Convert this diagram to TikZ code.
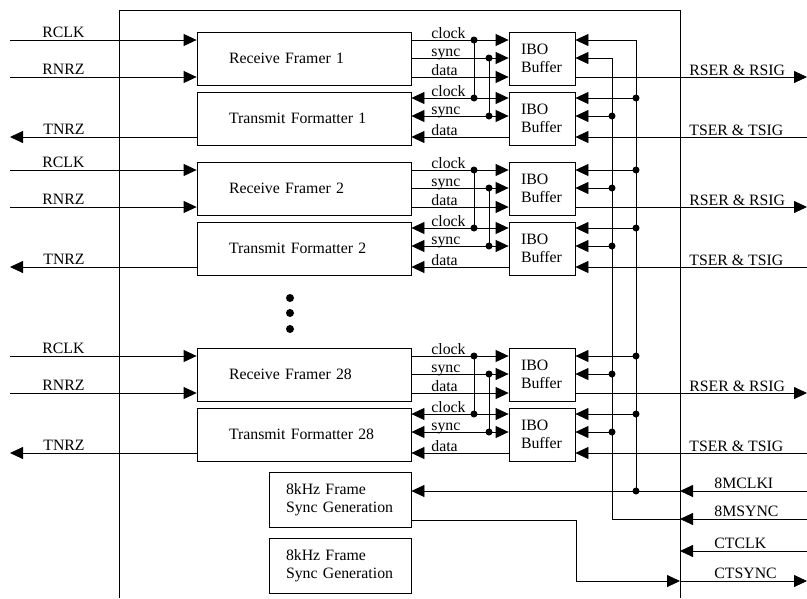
\documentclass[tikz,border=0pt]{standalone}
\usepackage{fontspec}
\setmainfont{Liberation Serif}
\usetikzlibrary{arrows.meta, positioning, calc}

\begin{document}
\begin{tikzpicture}[x=1pt, y=-1pt, line width=0.8pt,
    >={Triangle[length=13pt, width=12pt]},
    font=\fontsize{15.8}{18.5}\selectfont,
    block/.style={draw, rectangle, minimum height=53pt, text width=150pt,
      inner xsep=32pt, inner ysep=0pt, align=left},
    buffer/.style={draw, rectangle, minimum height=53pt, text width=42pt,
      inner xsep=12pt, inner ysep=0pt, align=left},
    gen/.style={draw, rectangle, minimum height=55pt, text width=108pt,
      inner xsep=17pt, inner ysep=0pt, align=left},
    lbl/.style={anchor=base west, inner sep=0pt}]
  \useasboundingbox (0,0) rectangle (807,598);

  % chip outline
  \draw (119,598) -- (119,10) -- (680,10) -- (680,598);
  \coordinate (chipR) at (680,0);
  \coordinate (busC) at (474,0);  % clock tie
  \coordinate (busS) at (489,0);  % sync tie
  \coordinate (vClk) at (636,0);
  \coordinate (vSyn) at (612,0);

  \foreach \k/\o in {1/0, 2/130, 28/316} {
    \node[block]  (rf\k) at (304, 58.5+\o)  {Receive Framer \k};
    \node[block]  (tf\k) at (304, 118.5+\o) {Transmit Formatter \k};
    \node[buffer] (br\k) at (542, 58.5+\o)  {IBO\\Buffer};
    \node[buffer] (bt\k) at (542, 118.5+\o) {IBO\\Buffer};
    % signal rows
    \coordinate (clk\k)  at (10, 40+\o);
    \coordinate (syn\k)  at (10, 58+\o);
    \coordinate (dat\k)  at (10, 77+\o);
    \coordinate (tclk\k) at (10, 98+\o);
    \coordinate (tsyn\k) at (10, 116+\o);
    \coordinate (tdat\k) at (10, 137+\o);
    \coordinate (rser\k) at (807, 77+\o);
    \coordinate (tser\k) at (807, 137+\o);
    % line side
    \draw[->] (clk\k) -- (clk\k -| rf\k.west);
    \draw[->] (dat\k) -- (dat\k -| rf\k.west);
    \draw[->] (tdat\k -| tf\k.west) -- (tdat\k);
    \node[lbl] (lrclk\k) at (42, 37+\o)  {RCLK};
    \node[lbl] (lrnrz\k) at (42, 74+\o)  {RNRZ};
    \node[lbl] (ltnrz\k) at (43, 134+\o) {TNRZ};
    % framer to buffer
    \draw[->] (clk\k -| rf\k.east) -- (clk\k -| br\k.west);
    \draw[->] (syn\k -| rf\k.east) -- (syn\k -| br\k.west);
    \draw[->] (dat\k -| rf\k.east) -- (dat\k -| br\k.west);
    \draw[<->] (tclk\k -| tf\k.east) -- (tclk\k -| bt\k.west);
    \draw[<->] (tsyn\k -| tf\k.east) -- (tsyn\k -| bt\k.west);
    \draw[->] (tdat\k -| bt\k.west) -- (tdat\k -| tf\k.east);
    \draw (clk\k -| busC) -- (tclk\k -| busC);
    \draw (syn\k -| busS) -- (tsyn\k -| busS);
    \fill (clk\k -| busC) circle[radius=3.5pt] (tclk\k -| busC) circle[radius=3.5pt]
          (syn\k -| busS) circle[radius=3.5pt] (tsyn\k -| busS) circle[radius=3.5pt];
    \node[lbl] (lclk\k)  at (431, 38+\o)  {clock};
    \node[lbl] (lsyn\k)  at (431, 56+\o)  {sync};
    \node[lbl] (ldat\k)  at (431, 75+\o)  {data};
    \node[lbl] (ltclk\k) at (431, 96+\o)  {clock};
    \node[lbl] (ltsyn\k) at (431, 114+\o) {sync};
    \node[lbl] (ltdat\k) at (431, 135+\o) {data};
    % backplane side
    \draw[->] (clk\k -| vClk)  -- (clk\k -| br\k.east);
    \draw[->] (syn\k -| vSyn)  -- (syn\k -| br\k.east);
    \draw[->] (tclk\k -| vClk) -- (tclk\k -| bt\k.east);
    \draw[->] (tsyn\k -| vSyn) -- (tsyn\k -| bt\k.east);
    \draw[->] (dat\k -| br\k.east) -- (rser\k);
    \draw[->] (tser\k) -- (tdat\k -| bt\k.east);
    \fill (tclk\k -| vClk) circle[radius=3.5pt] (tsyn\k -| vSyn) circle[radius=3.5pt];
    \ifnum\k>1
      \fill (clk\k -| vClk) circle[radius=3.5pt] (syn\k -| vSyn) circle[radius=3.5pt];
    \fi
    \node[lbl] (lrser\k) at (689, 75+\o)  {RSER \& RSIG};
    \node[lbl] (ltser\k) at (689, 135+\o) {TSER \& TSIG};
  }

  % framers 3 to 27 left out
  \foreach \y in {298, 313, 329} \fill (290,\y) circle[radius=4pt];

  % frame sync generators
  \node[gen] (gen1) at (340, 499.5) {8kHz Frame\\Sync Generation};
  \node[gen] (gen2) at (340, 565.5) {8kHz Frame\\Sync Generation};
  \coordinate (mclk)   at (807, 491);
  \coordinate (msync)  at (807, 519);
  \coordinate (ctclk)  at (807, 551);
  \coordinate (ctsync) at (807, 581);
  \coordinate (genout) at (411, 520);
  \coordinate (bend)   at (576, 581);
  \draw (clk1 -| vClk) -- (mclk -| vClk);
  \draw (syn1 -| vSyn) -- (msync -| vSyn);
  \draw[->] (mclk) -- (mclk -| chipR);
  \draw[->] (mclk -| chipR) -- (mclk -| gen1.east);
  \fill (mclk -| vClk) circle[radius=3.5pt];
  \draw[->] (msync) -- (msync -| chipR);
  \draw (msync -| chipR) -- (msync -| vSyn);
  \draw[->] (ctclk) -- (ctclk -| chipR);
  \draw[->] (genout -| gen1.east) -| (bend) -- (bend -| chipR);
  \draw[->] (bend -| chipR) -- (ctsync);
  \node[lbl] (lmclk)   at (714, 488) {8MCLKI};
  \node[lbl] (lmsync)  at (714, 516) {8MSYNC};
  \node[lbl] (lctclk)  at (714, 548) {CTCLK};
  \node[lbl] (lctsync) at (714, 578) {CTSYNC};
\end{tikzpicture}
\end{document}
